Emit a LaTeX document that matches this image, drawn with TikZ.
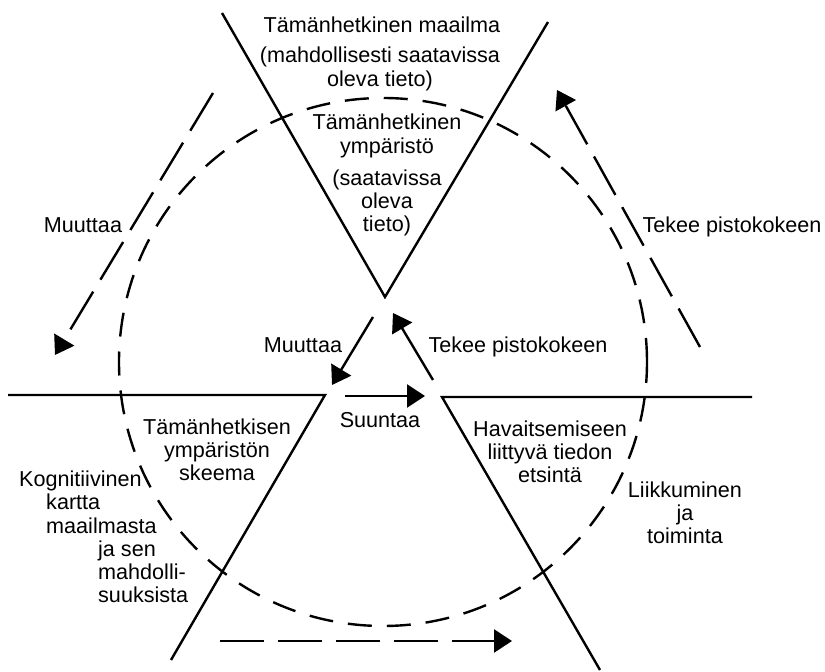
\documentclass[tikz,border=0pt]{standalone}
\usepackage{fontspec}
\setmainfont{Liberation Sans}
\usetikzlibrary{arrows.meta}

\begin{document}
\begin{tikzpicture}[>={Triangle[length = 9pt, width = 11.5pt]},
                    x = 0.5pt, y = -0.5pt,
                    line width = 1.2pt,
                    txt/.style = {align = center, inner sep = 0pt,
                                  font = \fontsize{10.8}{11.6}\selectfont},
                    longdash/.style = {dash pattern = on 22pt off 7pt},
                    cycledash/.style = {dash pattern = on 12pt off 7.5pt}]
    \useasboundingbox (0,0) rectangle (825,672);

    % Draw the three sectors:
    \draw (222,13) -- (385,297) -- (548,22);
    \draw (8,395) -- (325,395) -- (171,660);
    \draw (752,397) -- (442,397) -- (600,670);

    % Draw the dashed cycle:
    \draw [cycledash] (383,362) circle [radius = 132pt];

    % Texts inside the sectors:
    \node [txt] (WorldTitle) at (382,25) {Tämänhetkinen maailma};
    \node [txt] (WorldNote) at (380,69) {(mahdollisesti saatavissa\\oleva tieto)};
    \node [txt] (EnvTitle) at (387,136) {Tämänhetkinen\\ympäristö};
    \node [txt] (EnvNote) at (387,203) {(saatavissa\\oleva\\tieto)};
    \node [txt] (Schema) at (217,450) {Tämänhetkisen\\ympäristön\\skeema};
    \node [txt] (Search) at (550,452) {Havaitsemiseen\\liittyvä tiedon\\etsintä};

    % Texts outside:
    \node [txt, align = left, anchor = west] (CogMap) at (18,537)
        {Kognitiivinen\\
         \hspace*{13.5pt}kartta\\
         \hspace*{13.5pt}maailmasta\\
         \hspace*{39.5pt}ja sen\\
         \hspace*{39.5pt}mahdolli-\\
         \hspace*{39.5pt}suuksista};
    \node [txt] (Action) at (685,513) {Liikkuminen\\ja\\toiminta};

    % Arrow labels:
    \node [txt] (ChangeOut) at (83,225) {Muuttaa};
    \node [txt] (SampleOut) at (732,227) {Tekee pistokokeen};
    \node [txt] (ChangeIn) at (303,345) {Muuttaa};
    \node [txt] (SampleIn) at (518,347) {Tekee pistokokeen};
    \node [txt] (Direct) at (380,420) {Suuntaa};

    % Arrow end points:
    \coordinate (ChangeOutA) at (213,93);
    \coordinate (ChangeOutB) at (55,355);
    \coordinate (SampleOutA) at (700,347);
    \coordinate (SampleOutB) at (557,90);
    \coordinate (ChangeInA) at (373,317);
    \coordinate (ChangeInB) at (332,385);
    \coordinate (SampleInA) at (433,380);
    \coordinate (SampleInB) at (393,313);
    \coordinate (DirectA) at (345,396);
    \coordinate (DirectB) at (425,396);
    \coordinate (BottomA) at (220,641);
    \coordinate (BottomB) at (512,641);

    % Draw the arrows:
    \draw [->, longdash] (ChangeOutA) -- (ChangeOutB);
    \draw [->, longdash] (SampleOutA) -- (SampleOutB);
    \draw [->, longdash] (BottomA) -- (BottomB);
    \draw [->] (ChangeInA) -- (ChangeInB);
    \draw [->] (SampleInA) -- (SampleInB);
    \draw [->] (DirectA) -- (DirectB);
\end{tikzpicture}
\end{document}
